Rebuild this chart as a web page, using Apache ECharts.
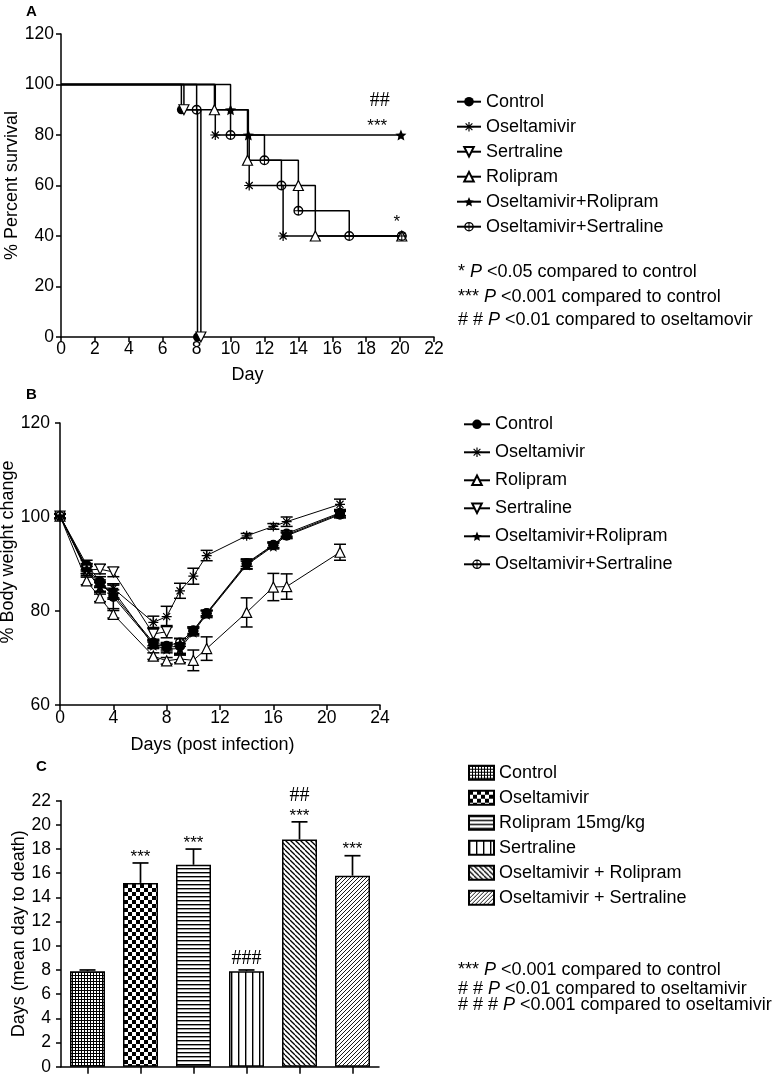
<!DOCTYPE html>
<html><head><meta charset="utf-8">
<script src="https://cdn.jsdelivr.net/npm/echarts@6/dist/echarts.min.js"></script>
<style>html,body{margin:0;padding:0;background:#fff}#c{width:774px;height:1080px}</style>
</head><body><div id="c"></div>
<script>
// ---------- Panel A: Kaplan-Meier survival [day, % survival] ----------
const namesA = ['Control','Oseltamivir','Sertraline','Rolipram','Oseltamivir+Rolipram','Oseltamivir+Sertraline'];
const kmControl     = [[0,100],[7.1,90],[8.05,0]];
const kmOseltamivir = [[0,100],[9.1,80],[11.1,60],[13.1,40],[20.1,40]];
const kmSertraline  = [[0,100],[7.25,90],[8.25,0]];
const kmRolipram    = [[0,100],[9.05,90],[11,70],[14,60],[15,40],[20.1,40]];
const kmOselRoli    = [[0,100],[10,90],[11.05,80],[20.05,80]];
const kmOselSert    = [[0,100],[8,90],[10,80],[12,70],[13,60],[14,50],[17,40],[20.1,40]];
const annA = [[18.8, 93.5, '##'], [18.65, 83.5, '***'], [19.8, 45.5, '*']];
const notesA = [['* ', ' <0.05 compared to control'], ['*** ', ' <0.001 compared to control'], ['# # ', ' <0.01 compared to oseltamovir']];

// ---------- Panel B: body weight ----------
const namesB = ['Control','Oseltamivir','Rolipram','Sertraline','Oseltamivir+Rolipram','Oseltamivir+Sertraline'];
const daysB    = [0, 2, 3, 4, 7, 8, 9, 10, 11, 14, 16, 17, 21];
const daysSert = [0, 2, 3, 4, 7, 8];
const bwControl  = [100.2, 89.8, 86.3, 83.0, 73.0, 72.3, 72.5, 75.8, 79.5, 90.0, 94.0, 96.0, 100.5];
const bwOsel     = [100.2, 88.5, 85.0, 84.8, 77.6, 78.8, 84.3, 87.4, 91.8, 96.0, 98.0, 99.0, 102.7];
const bwRoli     = [100.2, 86.4, 82.8, 79.3, 70.4, 69.4, 69.8, 69.5, 72.0, 79.7, 85.1, 85.2, 92.5];
const bwSert     = [100.2, 88.7, 88.9, 88.3, 75.1, 75.6];
const bwOselRoli = [100.2, 89.0, 85.2, 84.3, 72.7, 71.9, 72.0, 75.5, 79.3, 89.8, 93.8, 96.2, 100.7];
const bwOselSert = [100.2, 89.3, 85.8, 83.5, 73.3, 72.6, 73.3, 75.9, 79.6, 90.2, 94.1, 96.5, 100.9];
const erControl  = [0.5, 1.0, 1.0, 2.5, 0.8, 0.8, 1.7, 0.8, 0.6, 1.1, 0.6, 0.6, 0.7];
const erOsel     = [0.5, 1.0, 1.0, 1.0, 1.3, 2.2, 1.6, 1.7, 1.1, 0.5, 0.6, 1.0, 1.1];
const erRoli     = [0.5, 0.8, 0.8, 0.8, 0.7, 0.7, 0.8, 2.2, 2.5, 3.1, 2.9, 2.7, 1.7];
const erSert     = [0.5, 0.8, 1.0, 1.0, 1.4, 1.3];
const erOselRoli = [0.5, 1.0, 1.0, 1.5, 0.7, 0.8, 1.0, 0.8, 0.7, 0.8, 0.6, 0.6, 0.7];
const erOselSert = [0.5, 0.8, 0.8, 1.0, 0.7, 0.7, 0.8, 0.7, 0.6, 0.7, 0.6, 0.6, 0.6];

// ---------- Panel C: mean day to death ----------
const groupsC = ['Control','Oseltamivir','Rolipram 15mg/kg','Sertraline','Oseltamivir + Rolipram','Oseltamivir + Sertraline'];
const mdtMean = [7.9, 15.2, 16.7, 7.9, 18.8, 15.8];
const mdtErr  = [0.1, 1.65, 1.3, 0.1, 1.45, 1.65];
const annC = [[], ['***'], ['***'], ['###'], ['***','##'], ['***']];
const notesC = [['*** ', ' <0.001 compared to control'], ['# # ', ' <0.01 compared to oseltamivir'], ['# # # ', ' <0.001 compared to oseltamivir']];

const FONT = 'Liberation Sans, Arial, sans-serif';
const SERIF = 'Liberation Serif, Times New Roman, serif';

const SYM = {
  circle: 'circle',
  asterisk: 'path://M8.8,0h2.4v20h-2.4z M0,8.8h20v2.4h-20z M2.1,3.8L3.8,2.1L17.9,16.2L16.2,17.9z M16.2,2.1L17.9,3.8L3.8,17.9L2.1,16.2z',
  tri: 'path://M10,0L20,18L0,18Z',
  invTri: 'path://M0,0L20,0L10,18Z',
  star: 'path://M10,0L12.9,6.9L20,7.6L14.6,12.3L16.2,19.3L10,15.6L3.8,19.3L5.4,12.3L0,7.6L7.1,6.9Z',
  circCross: 'path://M10,0A10,10,0,1,1,9.99,0Z M10,2.8A7.2,7.2,0,1,0,10.01,2.8Z M9,2.8h2v14.4h-2z M2.8,9h14.4v2h-14.4z'
};

function kmSeries(name, data, symbol, filled, size) {
  return {
    type: 'line', name: 'A:' + name, xAxisIndex: 0, yAxisIndex: 0, step: 'end', clip: false,
    data: data.map((p, i) => i === 0 ? {value: p, symbol: 'none'} : p),
    symbol: symbol, symbolSize: size,
    lineStyle: {color: '#000', width: 1.5},
    itemStyle: {color: filled ? '#000' : '#fff', borderColor: '#000', borderWidth: filled ? 0 : 1.2},
    emphasis: {disabled: true}, silent: true
  };
}
function bwSeries(name, days, vals, symbol, filled, size) {
  return {
    type: 'line', name: 'B:' + name, xAxisIndex: 1, yAxisIndex: 1, clip: false,
    data: days.map((d, i) => [d, vals[i]]),
    symbol: symbol, symbolSize: size,
    lineStyle: {color: '#000', width: 1},
    itemStyle: {color: filled ? '#000' : '#fff', borderColor: '#000', borderWidth: filled ? 0 : 1.2},
    emphasis: {disabled: true}, silent: true
  };
}
function errSeries(days, vals, errs) {
  return {
    type: 'custom', xAxisIndex: 1, yAxisIndex: 1, silent: true, clip: false,
    data: days.map((d, i) => [d, vals[i], errs[i]]),
    encode: {x: 0, y: 1},
    renderItem: function (params, api) {
      const x = api.value(0), y = api.value(1), e = api.value(2);
      const t = api.coord([x, y + e]), b = api.coord([x, y - e]);
      const hw = 6, st = {stroke: '#000', lineWidth: 1.5};
      return {type: 'group', children: [
        {type: 'line', shape: {x1: t[0], y1: t[1], x2: b[0], y2: b[1]}, style: st},
        {type: 'line', shape: {x1: t[0] - hw, y1: t[1], x2: t[0] + hw, y2: t[1]}, style: st},
        {type: 'line', shape: {x1: b[0] - hw, y1: b[1], x2: b[0] + hw, y2: b[1]}, style: st}
      ]};
    }
  };
}

function pat(w, h, draw) {
  const c = document.createElement('canvas');
  c.width = w; c.height = h;
  const g = c.getContext('2d');
  g.fillStyle = '#fff'; g.fillRect(0, 0, w, h);
  g.fillStyle = '#000'; g.strokeStyle = '#000';
  draw(g, w, h);
  return {image: c, repeat: 'repeat'};
}
function diag(back, lw) {
  return function (g, w, h) {
    g.lineWidth = lw;
    for (let k = -1; k <= 1; k++) {
      g.beginPath();
      if (back) { g.moveTo(k * w, 0); g.lineTo(k * w + w, h); }
      else { g.moveTo(k * w + w, 0); g.lineTo(k * w, h); }
      g.stroke();
    }
  };
}
const patterns = [
  pat(3, 3, g => { g.fillRect(0, 0, 3, 1); g.fillRect(0, 0, 1, 3); }),
  pat(8, 8, g => { g.fillRect(0, 0, 4, 4); g.fillRect(4, 4, 4, 4); }),
  pat(1, 4, g => { g.fillRect(0, 0, 1, 1.4); }),
  pat(7, 1, g => { g.fillRect(0, 0, 1.4, 1); }),
  pat(5, 5, diag(true, 1.3)),
  pat(4, 4, diag(false, 0.9))
];

const series = [];
series.push(kmSeries(namesA[0], kmControl, SYM.circle, true, 9));
series.push(kmSeries(namesA[1], kmOseltamivir, SYM.asterisk, true, 10));
series.push(kmSeries(namesA[2], kmSertraline, SYM.invTri, false, 10));
series.push(kmSeries(namesA[3], kmRolipram, SYM.tri, false, 10));
series.push(kmSeries(namesA[4], kmOselRoli, SYM.star, true, 11));
series.push(kmSeries(namesA[5], kmOselSert, SYM.circCross, true, 10));
series.push({
  type: 'custom', xAxisIndex: 0, yAxisIndex: 0, silent: true, clip: false,
  data: annA.map(a => [a[0], a[1], a[2]]),
  encode: {x: 0, y: 1},
  renderItem: function (params, api) {
    const a = annA[params.dataIndex];
    const p = api.coord([a[0], a[1]]);
    const serif = a[2].indexOf('#') >= 0;
    return {type: 'text', style: {text: a[2], x: p[0], y: p[1], align: 'center', verticalAlign: 'middle',
      fill: '#000', fontSize: serif ? 20 : 17, fontFamily: serif ? SERIF : FONT}};
  }
});

series.push(errSeries(daysB, bwRoli, erRoli));
series.push(errSeries(daysSert, bwSert, erSert));
series.push(errSeries(daysB, bwOsel, erOsel));
series.push(errSeries(daysB, bwControl, erControl));
series.push(errSeries(daysB, bwOselRoli, erOselRoli));
series.push(errSeries(daysB, bwOselSert, erOselSert));
series.push(bwSeries(namesB[0], daysB, bwControl, SYM.circle, true, 10));
series.push(bwSeries(namesB[1], daysB, bwOsel, SYM.asterisk, true, 10));
series.push(bwSeries(namesB[2], daysB, bwRoli, SYM.tri, false, 10));
series.push(bwSeries(namesB[3], daysSert, bwSert, SYM.invTri, false, 10));
series.push(bwSeries(namesB[4], daysB, bwOselRoli, SYM.star, true, 11));
series.push(bwSeries(namesB[5], daysB, bwOselSert, SYM.circCross, true, 10));

groupsC.forEach((g, i) => {
  series.push({
    type: 'bar', name: 'C:' + g, xAxisIndex: 2, yAxisIndex: 2, silent: true,
    data: groupsC.map((_, j) => j === i ? mdtMean[i] : '-'),
    barWidth: 35, barGap: '-100%',
    itemStyle: {color: patterns[i], borderColor: '#000', borderWidth: 1.5}
  });
});
series.push({
  type: 'custom', xAxisIndex: 2, yAxisIndex: 2, silent: true, clip: false, z: 5,
  data: mdtMean.map((m, i) => [i, m, mdtErr[i]]),
  encode: {x: 0, y: 1},
  renderItem: function (params, api) {
    const i = params.dataIndex;
    const m = api.value(1), e = api.value(2);
    const t = api.coord([i, m + e]), b = api.coord([i, m]);
    const st = {stroke: '#000', lineWidth: 1.7};
    const ch = [
      {type: 'line', shape: {x1: t[0], y1: t[1], x2: b[0], y2: b[1]}, style: st},
      {type: 'line', shape: {x1: t[0] - 8, y1: t[1], x2: t[0] + 8, y2: t[1]}, style: st}
    ];
    annC[i].forEach((s, k) => {
      const serif = s.indexOf('#') >= 0;
      const yy = t[1] - (k === 0 ? (serif ? 11 : 6) : 26);
      ch.push({type: 'text', style: {text: s, x: t[0], y: yy, align: 'center', verticalAlign: 'middle',
        fill: '#000', fontSize: serif ? 20 : 17, fontFamily: serif ? SERIF : FONT}});
    });
    return {type: 'group', children: ch};
  }
});

function axisBase(extra) {
  return Object.assign({
    axisLine: {show: true, onZero: false, lineStyle: {color: '#000', width: 1.5}},
    axisTick: {show: true, inside: false, length: 5, lineStyle: {color: '#000', width: 1.5}},
    splitLine: {show: false},
    nameLocation: 'middle',
    nameTextStyle: {color: '#000', fontSize: 18, fontFamily: FONT}
  }, extra);
}
function lbl(margin) { return {color: '#000', fontSize: 17.5, fontFamily: FONT, margin: margin}; }

function legendOf(names, prefix, left, top, gap, iw, ih, icon) {
  const l = {
    data: names.map(n => prefix + n), orient: 'vertical', left: left, top: top,
    itemWidth: iw, itemHeight: ih, itemGap: gap, padding: 0, selectedMode: false,
    formatter: n => n.slice(2),
    textStyle: {fontSize: 18, fontFamily: FONT, color: '#000', lineHeight: 18}
  };
  if (icon) l.icon = icon;
  return l;
}
function notes(arr, x, ys) {
  return arr.map((n, i) => ({
    type: 'text', left: x, top: ys[i] - 9,
    style: {text: n[0] + '{i|P}' + n[1], fill: '#000', fontSize: 18, fontFamily: FONT, lineHeight: 18,
      rich: {i: {fontStyle: 'italic', fontSize: 18, fontFamily: FONT, fill: '#000', lineHeight: 18}}}
  }));
}

const option = {
  animation: false,
  backgroundColor: '#fff',
  grid: [
    {left: 61, top: 34, width: 373, height: 303, outerBoundsMode: 'none'},
    {left: 60, top: 423, width: 320, height: 282, outerBoundsMode: 'none'},
    {left: 61, top: 800.7, width: 318, height: 266, outerBoundsMode: 'none'}
  ],
  xAxis: [
    axisBase({gridIndex: 0, type: 'value', min: 0, max: 22, interval: 2, name: 'Day', nameGap: 29, axisLabel: lbl(3)}),
    axisBase({gridIndex: 1, type: 'value', min: 0, max: 24, interval: 4, name: 'Days (post infection)', nameGap: 31,
      nameTextStyle: {color: '#000', fontSize: 18, fontFamily: FONT, padding: [0, 15, 0, 0]}, axisLabel: lbl(4)}),
    axisBase({gridIndex: 2, type: 'category', data: groupsC, boundaryGap: true, axisLabel: {show: false, interval: 0},
      axisTick: {show: true, alignWithLabel: true, interval: 0, length: 7, lineStyle: {color: '#000', width: 1.5}}})
  ],
  yAxis: [
    axisBase({gridIndex: 0, type: 'value', min: 0, max: 120, interval: 20, name: '% Percent survival', nameGap: 40, axisLabel: lbl(7)}),
    axisBase({gridIndex: 1, type: 'value', min: 60, max: 120, interval: 20, name: '% Body weight change', nameGap: 43,
      nameTextStyle: {color: '#000', fontSize: 18, fontFamily: FONT, padding: [0, 0, 0, 24]}, axisLabel: lbl(10)}),
    axisBase({gridIndex: 2, type: 'value', min: 0, max: 22, interval: 2, name: 'Days (mean day to death)', nameGap: 33, axisLabel: lbl(10)})
  ],
  legend: [
    legendOf(namesA, 'A:', 456, 92.7, 7, 24, 12),
    legendOf(namesB, 'B:', 463, 415.3, 10, 26, 12),
    legendOf(groupsC, 'C:', 468, 763.7, 7, 25, 14, 'rect')
  ],
  graphic: [
    {type: 'text', left: 26, top: 4, style: {text: 'A', fontSize: 15, fontWeight: 'bold', fontFamily: FONT, fill: '#000'}},
    {type: 'text', left: 26, top: 387, style: {text: 'B', fontSize: 15, fontWeight: 'bold', fontFamily: FONT, fill: '#000'}},
    {type: 'text', left: 36, top: 759, style: {text: 'C', fontSize: 15, fontWeight: 'bold', fontFamily: FONT, fill: '#000'}}
  ].concat(notes(notesA, 458, [271.7, 296.7, 320])).concat(notes(notesC, 458, [970, 989.3, 1005])),
  series: series
};

const chart = echarts.init(document.getElementById('c'), null, {renderer: 'canvas', width: 774, height: 1080});
chart.setOption(option);
</script>
</body></html>
